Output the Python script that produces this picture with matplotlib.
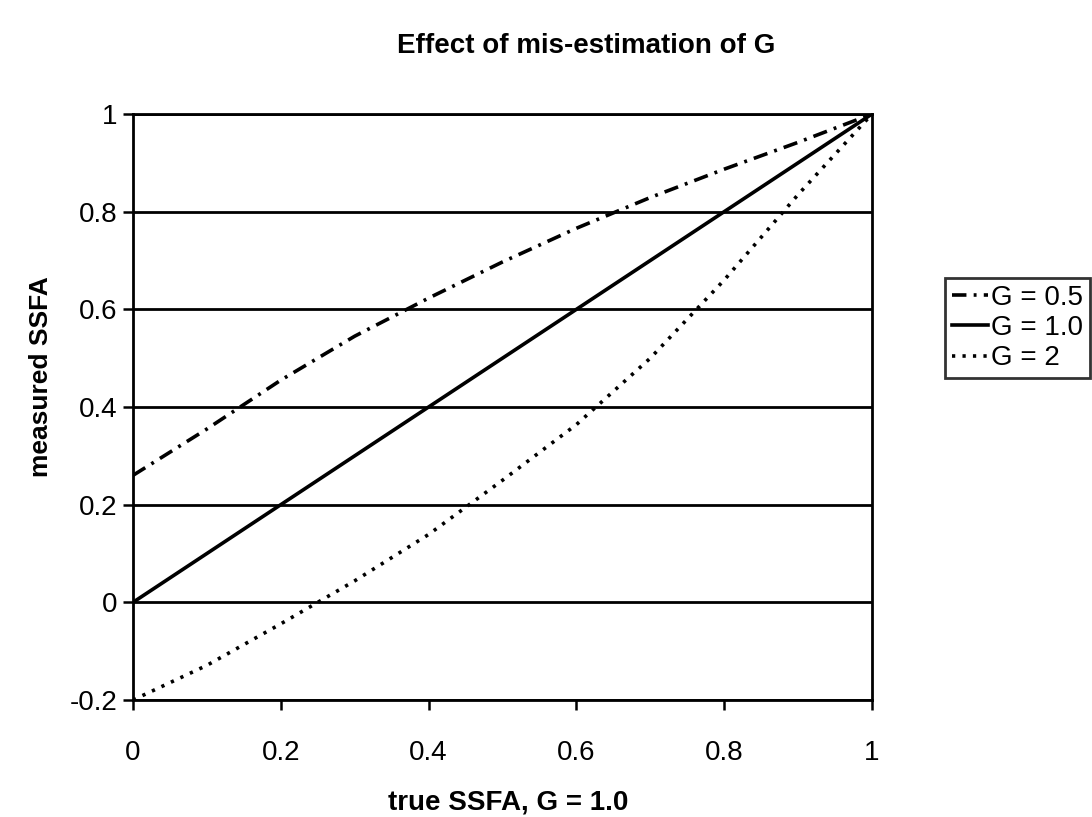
import matplotlib
matplotlib.use("Agg")
import matplotlib.pyplot as plt

# ---- data ----
x_true = [0.0, 0.1, 0.2, 0.3, 0.4, 0.5, 0.6, 0.7, 0.8, 0.9, 1.0]
g05 = [0.26, 0.355, 0.455, 0.545, 0.623, 0.697, 0.766, 0.829, 0.887, 0.942, 1.0]
g10 = [0.0, 0.1, 0.2, 0.3, 0.4, 0.5, 0.6, 0.7, 0.8, 0.9, 1.0]
g20 = [-0.2, -0.129, -0.044, 0.044, 0.139, 0.25, 0.364, 0.50, 0.66, 0.835, 1.0]
labels = ["G = 0.5", "G = 1.0", "G = 2"]
xticks = [0, 0.2, 0.4, 0.6, 0.8, 1]
yticks = [-0.2, 0, 0.2, 0.4, 0.6, 0.8, 1]
xtick_labels = ["0", "0.2", "0.4", "0.6", "0.8", "1"]
ytick_labels = ["-0.2", "0", "0.2", "0.4", "0.6", "0.8", "1"]

plt.rcParams['font.family'] = ['Liberation Sans', 'DejaVu Sans']

W, H = 1092, 817
fig = plt.figure(figsize=(W / 100, H / 100), dpi=100)
L, R, T, B = 133, 872, 114, 700
ax = fig.add_axes([L / W, 1 - B / H, (R - L) / W, (B - T) / H])

lw = 2.6
ax.plot(x_true, g05, color='black', lw=lw, linestyle=(0, (4, 2, 0.8, 2)), label=labels[0])
ax.plot(x_true, g10, color='black', lw=lw, linestyle='-', label=labels[1])
ax.plot(x_true, g20, color='black', lw=lw, linestyle=(0, (0.9, 2.0)), label=labels[2])

ax.set_xlim(0, 1)
ax.set_ylim(-0.2, 1)
ax.set_xticks(xticks)
ax.set_xticklabels(xtick_labels)
ax.set_yticks(yticks)
ax.set_yticklabels(ytick_labels)
ax.tick_params(axis='both', direction='out', length=7, width=1.8, labelsize=20, color='black')
ax.tick_params(axis='x', pad=22)
ax.tick_params(axis='y', pad=4)
ax.grid(axis='y', color='black', lw=2.0)
ax.set_axisbelow(True)
for s in ax.spines.values():
    s.set_color('black')
    s.set_linewidth(2.0)

ax.set_xlabel("true SSFA, G = 1.0", fontsize=20, fontweight='bold', va='center')
ax.xaxis.set_label_coords((508 - L) / (R - L), (B - 803) / (B - T))
ax.set_ylabel("measured SSFA", fontsize=19, fontweight='bold', va='center')
ax.yaxis.set_label_coords((41 - L) / (R - L), (B - 377) / (B - T))
fig.text(586 / W, 1 - 46 / H, "Effect of mis-estimation of G", ha='center', va='center',
         fontsize=20, fontweight='bold')

leg = ax.legend(loc='upper left', bbox_to_anchor=(945 / W, 1 - 278 / H),
                bbox_transform=fig.transFigure, borderaxespad=0, frameon=True,
                fancybox=False, fontsize=20, handlelength=1.3, handletextpad=0.1,
                labelspacing=0.15, borderpad=0.25)
leg.get_frame().set_edgecolor('black')
leg.get_frame().set_linewidth(2.0)

fig.savefig("out.png", dpi=100)
